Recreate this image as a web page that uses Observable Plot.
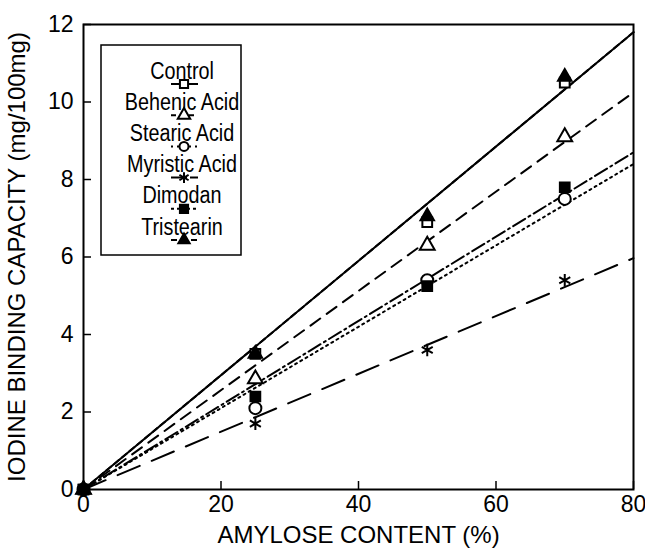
<!DOCTYPE html>
<html><head><meta charset="utf-8">
<script src="https://cdn.jsdelivr.net/npm/d3@7"></script>
<script src="https://cdn.jsdelivr.net/npm/@observablehq/plot@0.6"></script>
<style>
body{margin:0;background:#fff;}
#chart{position:relative;width:645px;height:555px;}
</style></head><body><div id="chart"></div>
<script>
// ---- data ----
const amylose = [0, 25, 50, 70];
const seriesNames = ["Control", "Behenic Acid", "Stearic Acid", "Myristic Acid", "Dimodan", "Tristearin"];
const control    = [0, 3.5, 6.9, 10.5];
const behenic    = [0, 2.85, 6.3, 9.1];
const stearic    = [0, 2.1, 5.4, 7.5];
const myristic   = [0, 1.7, 3.6, 5.4];
const dimodan    = [0, 2.4, 5.25, 7.8];
const tristearin = [0, 3.5, 7.05, 10.65];
// fitted lines (value at amylose 0 and 80)
const fitX = [0, 80];
const fitControl    = [0, 11.8];
const fitBehenic    = [0, 10.25];
const fitStearic    = [0, 8.4];
const fitMyristic   = [0, 5.97];
const fitDimodan    = [0, 8.7];
const fitTristearin = [0, 11.8];
const xTicks = [0, 20, 40, 60, 80];
const yTicks = [0, 2, 4, 6, 8, 10, 12];
const xLabel = "AMYLOSE CONTENT (%)";
const yLabel = "IODINE BINDING CAPACITY (mg/100mg)";

const values = [control, behenic, stearic, myristic, dimodan, tristearin];
const fits = [fitControl, fitBehenic, fitStearic, fitMyristic, fitDimodan, fitTristearin];

// ---- styles ----
const styles = [
  {symbol: "square",   fill: "white", r: 5.5, dash: null,        legendDash: null},
  {symbol: "triangle", fill: "white", r: 5.5, dash: "12,8",      legendDash: "5,4"},
  {symbol: "circle",   fill: "white", r: 6,   dash: "2,4",       legendDash: "2,4"},
  {symbol: "asterisk", fill: "none",  r: 6,   dash: "24,13",     legendDash: "16,3"},
  {symbol: "square",   fill: "black", r: 5.5, dash: "14,4,2,4",  legendDash: "3,3,2,3"},
  {symbol: "triangle", fill: "black", r: 5,   dash: "6,4",       legendDash: "6,4"}
];

const W = 645, H = 555;
const mL = 83, mR = 12, mT = 24, mB = 66;
const innerW = W - mL - mR, innerH = H - mT - mB;
const font = "Liberation Sans, Arial, Helvetica, sans-serif";

const marks = [];
fits.forEach((f, i) => {
  const pts = fitX.map((x, j) => ({x, y: f[j]}));
  marks.push(Plot.line(pts, {x: "x", y: "y", stroke: "black", strokeWidth: 2,
    strokeDasharray: styles[i].dash || undefined}));
});
values.forEach((v, i) => {
  const pts = amylose.map((x, j) => ({x, y: v[j]}));
  const s = styles[i];
  marks.push(Plot.dot(pts, {x: "x", y: "y", symbol: s.symbol, r: s.r,
    fill: s.fill, stroke: "black", strokeWidth: 2}));
});
marks.push(Plot.frame({stroke: "black", strokeWidth: 2}));
marks.push(Plot.tickX(xTicks, {x: d => d, stroke: "black", strokeWidth: 1.5, insetTop: innerH - 8}));
marks.push(Plot.tickY(yTicks, {y: d => d, stroke: "black", strokeWidth: 1.5, insetRight: innerW - 8}));
marks.push(Plot.text(xTicks, {x: d => d, frameAnchor: "bottom", dy: 22, text: d => String(d),
  fontSize: 23, fill: "black"}));
marks.push(Plot.text(yTicks, {y: d => d, frameAnchor: "left", dx: -10, textAnchor: "end",
  text: d => String(d), fontSize: 23, fill: "black"}));
marks.push(Plot.text([xLabel], {frameAnchor: "bottom", dy: 53, text: d => d, fontSize: 24, fill: "black"}));
marks.push(Plot.text([yLabel], {frameAnchor: "left", dx: -66, rotate: -90, textAnchor: "middle",
  text: d => d, fontSize: 24, fill: "black"}));

const plot = Plot.plot({
  width: W, height: H,
  marginLeft: mL, marginRight: mR, marginTop: mT, marginBottom: mB,
  x: {domain: [0, 80], axis: null},
  y: {domain: [0, 12], axis: null},
  style: {fontFamily: font, background: "white", color: "black", overflow: "visible"},
  marks
});
document.getElementById("chart").appendChild(plot);

// ---- legend ----
const svg = d3.select(plot);
const lg = svg.append("g");
lg.append("rect").attr("x", 101).attr("y", 45).attr("width", 140).attr("height", 210)
  .attr("fill", "white").attr("stroke", "black").attr("stroke-width", 1.5);
const symMap = {square: d3.symbolSquare, triangle: d3.symbolTriangle, circle: d3.symbolCircle, asterisk: d3.symbolAsterisk};
seriesNames.forEach((name, i) => {
  const ty = 71 + 31.2 * i;
  const sy = ty + 13;
  const s = styles[i];
  lg.append("text").attr("transform", `translate(182,${ty}) scale(0.86,1)`)
    .attr("text-anchor", "middle")
    .attr("dominant-baseline", "central").attr("font-size", 23).attr("font-family", font)
    .attr("fill", "black").text(name);
  lg.append("line").attr("x1", 171).attr("x2", 198).attr("y1", sy).attr("y2", sy)
    .attr("stroke", "black").attr("stroke-width", 2)
    .attr("stroke-dasharray", s.legendDash);
  const size = s.symbol === "circle" ? Math.PI * 4.5 * 4.5 : Math.PI * s.r * s.r * 0.7;
  lg.append("path").attr("transform", `translate(184,${sy})`)
    .attr("d", d3.symbol(symMap[s.symbol], size)())
    .attr("fill", s.fill).attr("stroke", "black").attr("stroke-width", 2);
});
</script></body></html>
